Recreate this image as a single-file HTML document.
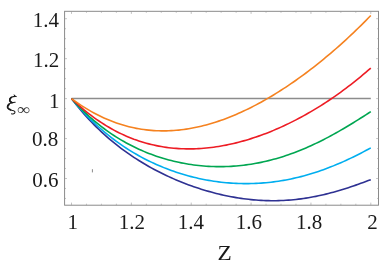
<!DOCTYPE html>
<html><head><meta charset="utf-8"><style>
html,body{margin:0;padding:0;background:#fff;}
svg{display:block;will-change:transform}
text{font-family:"Liberation Serif",serif;font-size:21px;fill:#1a1a1a}
</style></head><body>
<svg width="382" height="270" viewBox="0 0 382 270">
<rect width="382" height="270" fill="#fff"/>
<line x1="71.5" y1="98.6" x2="370.8" y2="98.6" stroke="#8c8c8c" stroke-width="1.5"/>
<path d="M71.50 98.60 L73.99 101.84 L76.49 104.98 L78.98 108.03 L81.48 110.99 L83.97 113.87 L86.47 116.66 L88.96 119.38 L91.45 122.01 L93.95 124.58 L96.44 127.07 L98.94 129.50 L101.43 131.85 L103.92 134.14 L106.42 136.37 L108.91 138.54 L111.41 140.65 L113.90 142.71 L116.40 144.70 L118.89 146.65 L121.38 148.55 L123.88 150.39 L126.37 152.19 L128.87 153.94 L131.36 155.65 L133.85 157.31 L136.35 158.93 L138.84 160.51 L141.34 162.05 L143.83 163.55 L146.32 165.01 L148.82 166.44 L151.31 167.83 L153.81 169.18 L156.30 170.50 L158.80 171.79 L161.29 173.05 L163.78 174.27 L166.28 175.46 L168.77 176.63 L171.27 177.76 L173.76 178.86 L176.25 179.93 L178.75 180.98 L181.24 182.00 L183.74 182.99 L186.23 183.95 L188.73 184.88 L191.22 185.79 L193.71 186.67 L196.21 187.52 L198.70 188.35 L201.20 189.15 L203.69 189.92 L206.19 190.67 L208.68 191.39 L211.17 192.09 L213.67 192.75 L216.16 193.40 L218.66 194.01 L221.15 194.60 L223.64 195.17 L226.14 195.71 L228.63 196.22 L231.13 196.70 L233.62 197.16 L236.12 197.59 L238.61 197.99 L241.10 198.37 L243.60 198.72 L246.09 199.04 L248.59 199.33 L251.08 199.59 L253.57 199.83 L256.07 200.04 L258.56 200.22 L261.06 200.37 L263.55 200.50 L266.05 200.59 L268.54 200.66 L271.03 200.69 L273.53 200.70 L276.02 200.68 L278.52 200.63 L281.01 200.54 L283.50 200.43 L286.00 200.29 L288.49 200.13 L290.99 199.93 L293.48 199.70 L295.98 199.44 L298.47 199.15 L300.96 198.84 L303.46 198.49 L305.95 198.12 L308.45 197.71 L310.94 197.28 L313.43 196.82 L315.93 196.34 L318.42 195.82 L320.92 195.28 L323.41 194.71 L325.90 194.11 L328.40 193.49 L330.89 192.84 L333.39 192.17 L335.88 191.48 L338.38 190.76 L340.87 190.02 L343.36 189.25 L345.86 188.47 L348.35 187.66 L350.85 186.84 L353.34 185.99 L355.83 185.13 L358.33 184.25 L360.82 183.36 L363.32 182.46 L365.81 181.54 L368.31 180.61 L370.80 179.67" fill="none" stroke="#2E3192" stroke-width="1.6" stroke-linejoin="round"/>
<path d="M71.50 98.60 L73.99 101.59 L76.49 104.49 L78.98 107.32 L81.48 110.06 L83.97 112.73 L86.47 115.33 L88.96 117.85 L91.45 120.31 L93.95 122.69 L96.44 125.01 L98.94 127.26 L101.43 129.45 L103.92 131.58 L106.42 133.65 L108.91 135.66 L111.41 137.62 L113.90 139.51 L116.40 141.36 L118.89 143.15 L121.38 144.89 L123.88 146.58 L126.37 148.22 L128.87 149.81 L131.36 151.36 L133.85 152.86 L136.35 154.31 L138.84 155.72 L141.34 157.09 L143.83 158.42 L146.32 159.70 L148.82 160.95 L151.31 162.15 L153.81 163.32 L156.30 164.45 L158.80 165.54 L161.29 166.60 L163.78 167.62 L166.28 168.60 L168.77 169.55 L171.27 170.47 L173.76 171.35 L176.25 172.20 L178.75 173.02 L181.24 173.80 L183.74 174.55 L186.23 175.27 L188.73 175.96 L191.22 176.62 L193.71 177.24 L196.21 177.84 L198.70 178.41 L201.20 178.94 L203.69 179.45 L206.19 179.92 L208.68 180.37 L211.17 180.79 L213.67 181.18 L216.16 181.54 L218.66 181.87 L221.15 182.17 L223.64 182.44 L226.14 182.69 L228.63 182.90 L231.13 183.09 L233.62 183.25 L236.12 183.38 L238.61 183.48 L241.10 183.55 L243.60 183.60 L246.09 183.61 L248.59 183.60 L251.08 183.56 L253.57 183.49 L256.07 183.39 L258.56 183.26 L261.06 183.10 L263.55 182.91 L266.05 182.70 L268.54 182.45 L271.03 182.18 L273.53 181.88 L276.02 181.54 L278.52 181.18 L281.01 180.79 L283.50 180.37 L286.00 179.92 L288.49 179.45 L290.99 178.94 L293.48 178.40 L295.98 177.84 L298.47 177.24 L300.96 176.62 L303.46 175.96 L305.95 175.28 L308.45 174.57 L310.94 173.82 L313.43 173.05 L315.93 172.25 L318.42 171.43 L320.92 170.57 L323.41 169.69 L325.90 168.77 L328.40 167.83 L330.89 166.86 L333.39 165.87 L335.88 164.84 L338.38 163.79 L340.87 162.72 L343.36 161.61 L345.86 160.48 L348.35 159.33 L350.85 158.15 L353.34 156.94 L355.83 155.71 L358.33 154.46 L360.82 153.18 L363.32 151.88 L365.81 150.56 L368.31 149.21 L370.80 147.85" fill="none" stroke="#00AEEF" stroke-width="1.6" stroke-linejoin="round"/>
<path d="M71.50 98.60 L73.99 101.36 L76.49 104.04 L78.98 106.63 L81.48 109.14 L83.97 111.58 L86.47 113.94 L88.96 116.23 L91.45 118.44 L93.95 120.59 L96.44 122.67 L98.94 124.68 L101.43 126.63 L103.92 128.51 L106.42 130.34 L108.91 132.10 L111.41 133.81 L113.90 135.46 L116.40 137.06 L118.89 138.60 L121.38 140.09 L123.88 141.54 L126.37 142.93 L128.87 144.27 L131.36 145.57 L133.85 146.81 L136.35 148.02 L138.84 149.18 L141.34 150.29 L143.83 151.37 L146.32 152.40 L148.82 153.39 L151.31 154.34 L153.81 155.25 L156.30 156.13 L158.80 156.96 L161.29 157.76 L163.78 158.52 L166.28 159.24 L168.77 159.93 L171.27 160.58 L173.76 161.20 L176.25 161.78 L178.75 162.33 L181.24 162.85 L183.74 163.33 L186.23 163.77 L188.73 164.19 L191.22 164.57 L193.71 164.92 L196.21 165.23 L198.70 165.52 L201.20 165.77 L203.69 165.99 L206.19 166.18 L208.68 166.34 L211.17 166.46 L213.67 166.55 L216.16 166.62 L218.66 166.65 L221.15 166.64 L223.64 166.61 L226.14 166.55 L228.63 166.45 L231.13 166.33 L233.62 166.17 L236.12 165.98 L238.61 165.76 L241.10 165.50 L243.60 165.22 L246.09 164.91 L248.59 164.56 L251.08 164.18 L253.57 163.77 L256.07 163.33 L258.56 162.85 L261.06 162.35 L263.55 161.81 L266.05 161.25 L268.54 160.65 L271.03 160.02 L273.53 159.35 L276.02 158.66 L278.52 157.93 L281.01 157.18 L283.50 156.39 L286.00 155.57 L288.49 154.72 L290.99 153.84 L293.48 152.93 L295.98 151.99 L298.47 151.02 L300.96 150.01 L303.46 148.98 L305.95 147.92 L308.45 146.83 L310.94 145.71 L313.43 144.56 L315.93 143.39 L318.42 142.18 L320.92 140.95 L323.41 139.69 L325.90 138.41 L328.40 137.10 L330.89 135.76 L333.39 134.40 L335.88 133.02 L338.38 131.61 L340.87 130.18 L343.36 128.73 L345.86 127.26 L348.35 125.77 L350.85 124.26 L353.34 122.73 L355.83 121.18 L358.33 119.62 L360.82 118.04 L363.32 116.45 L365.81 114.84 L368.31 113.22 L370.80 111.60" fill="none" stroke="#00A651" stroke-width="1.6" stroke-linejoin="round"/>
<path d="M71.50 98.60 L73.99 100.97 L76.49 103.27 L78.98 105.50 L81.48 107.67 L83.97 109.77 L86.47 111.80 L88.96 113.77 L91.45 115.67 L93.95 117.52 L96.44 119.30 L98.94 121.02 L101.43 122.68 L103.92 124.28 L106.42 125.82 L108.91 127.30 L111.41 128.73 L113.90 130.10 L116.40 131.42 L118.89 132.69 L121.38 133.89 L123.88 135.05 L126.37 136.16 L128.87 137.21 L131.36 138.21 L133.85 139.17 L136.35 140.07 L138.84 140.93 L141.34 141.74 L143.83 142.50 L146.32 143.22 L148.82 143.89 L151.31 144.51 L153.81 145.09 L156.30 145.63 L158.80 146.12 L161.29 146.57 L163.78 146.98 L166.28 147.35 L168.77 147.68 L171.27 147.97 L173.76 148.22 L176.25 148.42 L178.75 148.59 L181.24 148.73 L183.74 148.82 L186.23 148.88 L188.73 148.90 L191.22 148.88 L193.71 148.83 L196.21 148.74 L198.70 148.62 L201.20 148.47 L203.69 148.28 L206.19 148.05 L208.68 147.80 L211.17 147.50 L213.67 147.18 L216.16 146.83 L218.66 146.44 L221.15 146.02 L223.64 145.57 L226.14 145.09 L228.63 144.58 L231.13 144.04 L233.62 143.47 L236.12 142.86 L238.61 142.23 L241.10 141.57 L243.60 140.88 L246.09 140.16 L248.59 139.41 L251.08 138.63 L253.57 137.83 L256.07 136.99 L258.56 136.13 L261.06 135.24 L263.55 134.32 L266.05 133.38 L268.54 132.40 L271.03 131.40 L273.53 130.37 L276.02 129.31 L278.52 128.23 L281.01 127.12 L283.50 125.98 L286.00 124.81 L288.49 123.61 L290.99 122.39 L293.48 121.14 L295.98 119.86 L298.47 118.56 L300.96 117.23 L303.46 115.87 L305.95 114.48 L308.45 113.06 L310.94 111.62 L313.43 110.14 L315.93 108.64 L318.42 107.11 L320.92 105.56 L323.41 103.97 L325.90 102.35 L328.40 100.71 L330.89 99.03 L333.39 97.33 L335.88 95.60 L338.38 93.83 L340.87 92.04 L343.36 90.21 L345.86 88.36 L348.35 86.47 L350.85 84.55 L353.34 82.60 L355.83 80.62 L358.33 78.61 L360.82 76.56 L363.32 74.48 L365.81 72.36 L368.31 70.22 L370.80 68.03" fill="none" stroke="#ED1C24" stroke-width="1.6" stroke-linejoin="round"/>
<path d="M71.50 98.60 L73.99 100.43 L76.49 102.19 L78.98 103.90 L81.48 105.56 L83.97 107.15 L86.47 108.69 L88.96 110.18 L91.45 111.61 L93.95 112.98 L96.44 114.30 L98.94 115.57 L101.43 116.78 L103.92 117.94 L106.42 119.04 L108.91 120.10 L111.41 121.10 L113.90 122.05 L116.40 122.95 L118.89 123.80 L121.38 124.59 L123.88 125.34 L126.37 126.04 L128.87 126.69 L131.36 127.29 L133.85 127.84 L136.35 128.35 L138.84 128.81 L141.34 129.22 L143.83 129.58 L146.32 129.90 L148.82 130.17 L151.31 130.40 L153.81 130.59 L156.30 130.73 L158.80 130.82 L161.29 130.88 L163.78 130.89 L166.28 130.86 L168.77 130.78 L171.27 130.67 L173.76 130.51 L176.25 130.31 L178.75 130.08 L181.24 129.80 L183.74 129.48 L186.23 129.13 L188.73 128.73 L191.22 128.30 L193.71 127.83 L196.21 127.32 L198.70 126.78 L201.20 126.20 L203.69 125.58 L206.19 124.93 L208.68 124.24 L211.17 123.51 L213.67 122.75 L216.16 121.96 L218.66 121.13 L221.15 120.27 L223.64 119.38 L226.14 118.45 L228.63 117.49 L231.13 116.50 L233.62 115.48 L236.12 114.42 L238.61 113.33 L241.10 112.21 L243.60 111.06 L246.09 109.88 L248.59 108.67 L251.08 107.43 L253.57 106.16 L256.07 104.86 L258.56 103.54 L261.06 102.18 L263.55 100.79 L266.05 99.38 L268.54 97.93 L271.03 96.46 L273.53 94.96 L276.02 93.43 L278.52 91.88 L281.01 90.30 L283.50 88.69 L286.00 87.05 L288.49 85.38 L290.99 83.69 L293.48 81.98 L295.98 80.23 L298.47 78.46 L300.96 76.66 L303.46 74.84 L305.95 72.99 L308.45 71.11 L310.94 69.21 L313.43 67.28 L315.93 65.32 L318.42 63.34 L320.92 61.33 L323.41 59.30 L325.90 57.24 L328.40 55.15 L330.89 53.04 L333.39 50.90 L335.88 48.73 L338.38 46.53 L340.87 44.31 L343.36 42.07 L345.86 39.79 L348.35 37.49 L350.85 35.16 L353.34 32.80 L355.83 30.42 L358.33 28.00 L360.82 25.56 L363.32 23.09 L365.81 20.59 L368.31 18.06 L370.80 15.51" fill="none" stroke="#F58220" stroke-width="1.6" stroke-linejoin="round"/>
<rect x="64.6" y="11.3" width="313.9" height="193.89999999999998" fill="none" stroke="#858585" stroke-width="0.95"/>
<g stroke="#9a9a9a" stroke-width="0.6">
<line x1="71.50" y1="205.2" x2="71.50" y2="202.6"/>
<line x1="71.50" y1="11.3" x2="71.50" y2="13.9"/>
<line x1="86.47" y1="205.2" x2="86.47" y2="203.7"/>
<line x1="86.47" y1="11.3" x2="86.47" y2="12.8"/>
<line x1="101.43" y1="205.2" x2="101.43" y2="203.7"/>
<line x1="101.43" y1="11.3" x2="101.43" y2="12.8"/>
<line x1="116.39" y1="205.2" x2="116.39" y2="203.7"/>
<line x1="116.39" y1="11.3" x2="116.39" y2="12.8"/>
<line x1="131.36" y1="205.2" x2="131.36" y2="202.6"/>
<line x1="131.36" y1="11.3" x2="131.36" y2="13.9"/>
<line x1="146.32" y1="205.2" x2="146.32" y2="203.7"/>
<line x1="146.32" y1="11.3" x2="146.32" y2="12.8"/>
<line x1="161.29" y1="205.2" x2="161.29" y2="203.7"/>
<line x1="161.29" y1="11.3" x2="161.29" y2="12.8"/>
<line x1="176.26" y1="205.2" x2="176.26" y2="203.7"/>
<line x1="176.26" y1="11.3" x2="176.26" y2="12.8"/>
<line x1="191.22" y1="205.2" x2="191.22" y2="202.6"/>
<line x1="191.22" y1="11.3" x2="191.22" y2="13.9"/>
<line x1="206.19" y1="205.2" x2="206.19" y2="203.7"/>
<line x1="206.19" y1="11.3" x2="206.19" y2="12.8"/>
<line x1="221.15" y1="205.2" x2="221.15" y2="203.7"/>
<line x1="221.15" y1="11.3" x2="221.15" y2="12.8"/>
<line x1="236.12" y1="205.2" x2="236.12" y2="203.7"/>
<line x1="236.12" y1="11.3" x2="236.12" y2="12.8"/>
<line x1="251.08" y1="205.2" x2="251.08" y2="202.6"/>
<line x1="251.08" y1="11.3" x2="251.08" y2="13.9"/>
<line x1="266.04" y1="205.2" x2="266.04" y2="203.7"/>
<line x1="266.04" y1="11.3" x2="266.04" y2="12.8"/>
<line x1="281.01" y1="205.2" x2="281.01" y2="203.7"/>
<line x1="281.01" y1="11.3" x2="281.01" y2="12.8"/>
<line x1="295.98" y1="205.2" x2="295.98" y2="203.7"/>
<line x1="295.98" y1="11.3" x2="295.98" y2="12.8"/>
<line x1="310.94" y1="205.2" x2="310.94" y2="202.6"/>
<line x1="310.94" y1="11.3" x2="310.94" y2="13.9"/>
<line x1="325.91" y1="205.2" x2="325.91" y2="203.7"/>
<line x1="325.91" y1="11.3" x2="325.91" y2="12.8"/>
<line x1="340.87" y1="205.2" x2="340.87" y2="203.7"/>
<line x1="340.87" y1="11.3" x2="340.87" y2="12.8"/>
<line x1="355.84" y1="205.2" x2="355.84" y2="203.7"/>
<line x1="355.84" y1="11.3" x2="355.84" y2="12.8"/>
<line x1="370.80" y1="205.2" x2="370.80" y2="202.6"/>
<line x1="370.80" y1="11.3" x2="370.80" y2="13.9"/>
<line x1="64.6" y1="198.47" x2="66.0" y2="198.47"/>
<line x1="378.5" y1="198.47" x2="377.1" y2="198.47"/>
<line x1="64.6" y1="188.49" x2="66.0" y2="188.49"/>
<line x1="378.5" y1="188.49" x2="377.1" y2="188.49"/>
<line x1="64.6" y1="178.50" x2="66.89999999999999" y2="178.50"/>
<line x1="378.5" y1="178.50" x2="376.2" y2="178.50"/>
<line x1="64.6" y1="168.51" x2="66.0" y2="168.51"/>
<line x1="378.5" y1="168.51" x2="377.1" y2="168.51"/>
<line x1="64.6" y1="158.52" x2="66.0" y2="158.52"/>
<line x1="378.5" y1="158.52" x2="377.1" y2="158.52"/>
<line x1="64.6" y1="148.54" x2="66.0" y2="148.54"/>
<line x1="378.5" y1="148.54" x2="377.1" y2="148.54"/>
<line x1="64.6" y1="138.55" x2="66.89999999999999" y2="138.55"/>
<line x1="378.5" y1="138.55" x2="376.2" y2="138.55"/>
<line x1="64.6" y1="128.56" x2="66.0" y2="128.56"/>
<line x1="378.5" y1="128.56" x2="377.1" y2="128.56"/>
<line x1="64.6" y1="118.57" x2="66.0" y2="118.57"/>
<line x1="378.5" y1="118.57" x2="377.1" y2="118.57"/>
<line x1="64.6" y1="108.59" x2="66.0" y2="108.59"/>
<line x1="378.5" y1="108.59" x2="377.1" y2="108.59"/>
<line x1="64.6" y1="98.60" x2="66.89999999999999" y2="98.60"/>
<line x1="378.5" y1="98.60" x2="376.2" y2="98.60"/>
<line x1="64.6" y1="88.61" x2="66.0" y2="88.61"/>
<line x1="378.5" y1="88.61" x2="377.1" y2="88.61"/>
<line x1="64.6" y1="78.62" x2="66.0" y2="78.62"/>
<line x1="378.5" y1="78.62" x2="377.1" y2="78.62"/>
<line x1="64.6" y1="68.64" x2="66.0" y2="68.64"/>
<line x1="378.5" y1="68.64" x2="377.1" y2="68.64"/>
<line x1="64.6" y1="58.65" x2="66.89999999999999" y2="58.65"/>
<line x1="378.5" y1="58.65" x2="376.2" y2="58.65"/>
<line x1="64.6" y1="48.66" x2="66.0" y2="48.66"/>
<line x1="378.5" y1="48.66" x2="377.1" y2="48.66"/>
<line x1="64.6" y1="38.67" x2="66.0" y2="38.67"/>
<line x1="378.5" y1="38.67" x2="377.1" y2="38.67"/>
<line x1="64.6" y1="28.69" x2="66.0" y2="28.69"/>
<line x1="378.5" y1="28.69" x2="377.1" y2="28.69"/>
<line x1="64.6" y1="18.70" x2="66.89999999999999" y2="18.70"/>
<line x1="378.5" y1="18.70" x2="376.2" y2="18.70"/>
</g>
<rect x="91.9" y="169.2" width="1.0" height="3.2" fill="#8a8a8a"/>
<text x="59.00" y="26.50" text-anchor="end">1.4</text>
<text x="59.20" y="66.50" text-anchor="end">1.2</text>
<text x="59.40" y="107.90" text-anchor="end">1</text>
<text x="58.35" y="146.30" text-anchor="end">0.8</text>
<text x="58.60" y="186.50" text-anchor="end">0.6</text>
<text x="72.70" y="228.6" text-anchor="middle">1</text>
<text x="131.96" y="228.6" text-anchor="middle">1.2</text>
<text x="190.92" y="228.6" text-anchor="middle">1.4</text>
<text x="248.88" y="228.6" text-anchor="middle">1.6</text>
<text x="309.04" y="228.6" text-anchor="middle">1.8</text>
<text x="372.60" y="228.6" text-anchor="middle">2</text>
<text transform="translate(224.7 260) scale(1.06 1)" x="0" y="0" text-anchor="middle" style="font-size:22px">Z</text>
<g fill="none" stroke="#1a1a1a" stroke-linecap="round" stroke-linejoin="round">
<path d="M14.2 94.9 L14.7 96.0 L16.3 96.5" stroke-width="1.0"/>
<path d="M15.6 96.4 C12.6 96.3 9.6 97.6 9.6 100.0 C9.6 101.8 11.4 102.8 13.2 102.6 L15.2 102.2" stroke-width="1.05"/>
<path d="M11.2 97.5 C9.9 98.2 9.7 99.4 9.8 100.3 C10.0 101.4 10.6 102.0 11.4 102.4" stroke-width="1.8"/>
<path d="M12.8 102.8 C10.2 103.1 7.3 104.6 7.3 107.0 C7.3 109.4 10.4 110.0 12.9 110.6 C14.5 111.0 15.2 111.8 14.9 112.7 C14.6 113.8 13.0 114.3 11.5 113.8" stroke-width="1.05"/>
<path d="M9.0 104.4 C7.8 105.2 7.5 106.4 7.7 107.4 C8.0 108.6 9.2 109.3 10.6 109.8" stroke-width="1.8"/>
</g>
<text transform="translate(17.2 115.1) scale(1.12 1)" x="0" y="0" style="font-size:16.5px;fill:#333">∞</text>
</svg>
</body></html>
